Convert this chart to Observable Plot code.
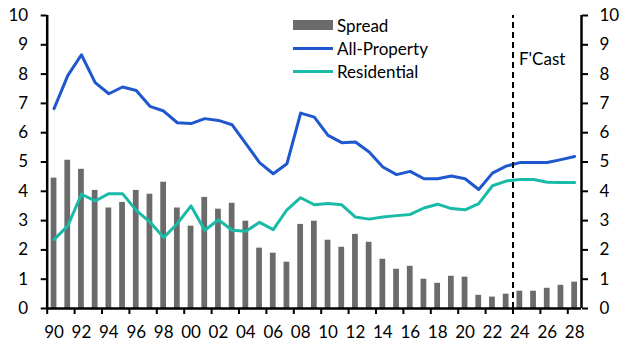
<!DOCTYPE html>
<html>
<head>
<meta charset="utf-8">
<script src="https://cdn.jsdelivr.net/npm/d3@7"></script>
<script src="https://cdn.jsdelivr.net/npm/@observablehq/plot@0.6"></script>
<style>
  html, body { margin: 0; padding: 0; background: #fff; }
  #wrap { position: relative; width: 630px; height: 355px; font-family: Lato, "Noto Sans", sans-serif; }
  .leg { position: absolute; left: 293px; height: 22px; display: flex; align-items: center; font-size: 17px; color: #000; white-space: nowrap; }
  .sw { width: 40px; margin-right: 4px; }
</style>
</head>
<body>
<div id="wrap"></div>
<script>
const years = d3.range(1990, 2029);
const spread = [4.45, 5.06, 4.75, 4.03, 3.43, 3.62, 4.03, 3.90, 4.31, 3.43,
                2.81, 3.79, 3.39, 3.59, 2.98, 2.06, 1.89, 1.58, 2.87, 2.98,
                2.33, 2.09, 2.53, 2.26, 1.68, 1.34, 1.44, 1.00, 0.86, 1.10,
                1.07, 0.45, 0.39, 0.49, 0.59, 0.59, 0.69, 0.79, 0.90];
const allProperty = [6.82, 7.95, 8.66, 7.71, 7.33, 7.56, 7.44, 6.90, 6.74, 6.34,
                     6.31, 6.48, 6.42, 6.27, 5.63, 4.98, 4.60, 4.94, 6.67, 6.53,
                     5.91, 5.66, 5.68, 5.34, 4.83, 4.57, 4.68, 4.43, 4.43, 4.52,
                     4.43, 4.06, 4.62, 4.86, 4.98, 4.98, 4.98, 5.08, 5.19];
const residential = [2.35, 2.82, 3.90, 3.67, 3.92, 3.92, 3.35, 2.95, 2.42, 2.90,
                     3.50, 2.67, 3.03, 2.67, 2.64, 2.94, 2.69, 3.37, 3.78, 3.54,
                     3.58, 3.54, 3.12, 3.05, 3.12, 3.17, 3.21, 3.43, 3.56, 3.41,
                     3.37, 3.58, 4.19, 4.35, 4.40, 4.40, 4.31, 4.30, 4.30];
const xTicks = d3.range(1990, 2029, 2);
const yTicks = d3.range(0, 11, 1);
const forecastStart = 2024;
const forecastLabel = "F'Cast";
const forecastLabelY = 8.5;
const seriesNames = ["Spread", "All-Property", "Residential"];
const colors = { bar: "#6b6b6b", all: "#1f57cf", res: "#19bba8" };

const data = years.map((y, i) => ({ year: y, spread: spread[i], all: allProperty[i], res: residential[i] }));

const chart = Plot.plot({
  width: 630,
  height: 355,
  marginLeft: 46.7,
  marginRight: 49,
  marginTop: 15,
  marginBottom: 47,
  style: { fontFamily: "Lato, 'Noto Sans', sans-serif", fontSize: "17px", color: "#000", background: "#fff" },
  x: { domain: [1990, 2029], axis: null },
  y: { domain: [0, 10], axis: null },
  marks: [
    Plot.rectY(data, { x1: d => d.year + 0.29, x2: d => d.year + 0.71, y1: 0, y2: "spread", fill: colors.bar }),
    Plot.line(data, { x: d => d.year + 0.5, y: "res", stroke: colors.res, strokeWidth: 3 }),
    Plot.line(data, { x: d => d.year + 0.5, y: "all", stroke: colors.all, strokeWidth: 3 }),
    Plot.ruleX([forecastStart], { y1: 0, y2: 10, stroke: "#000", strokeWidth: 2, strokeDasharray: "6,4" }),
    Plot.text([forecastLabel], { x: forecastStart, y: forecastLabelY, text: d => d, textAnchor: "start", dx: 6, fontSize: 17, fill: "#000" }),
    Plot.axisX({ ticks: xTicks, tickSize: 6, strokeWidth: 2, tickFormat: () => "" }),
    Plot.axisX({ ticks: xTicks.map(y => y + 0.5), tickSize: 0, tickPadding: 17, tickFormat: d => String(Math.round(d - 0.5) % 100).padStart(2, "0") }),
    Plot.axisY({ anchor: "left", ticks: yTicks, tickSize: 6, tickPadding: 13, strokeWidth: 2, tickFormat: d => String(d) }),
    Plot.axisY({ anchor: "right", ticks: yTicks, tickSize: 6, tickPadding: 12, strokeWidth: 2, tickFormat: d => String(d) }),
    Plot.ruleY([0], { stroke: "#000", strokeWidth: 2.5 }),
    Plot.ruleX([1990, 2029], { y1: 0, y2: 10, stroke: "#000", strokeWidth: 2.5 })
  ]
});

const wrap = document.getElementById("wrap");
wrap.appendChild(chart);

const legendItems = [
  { name: seriesNames[0], top: 14, swatch: `height:10px;background:${colors.bar}` },
  { name: seriesNames[1], top: 37, swatch: `height:3px;background:${colors.all}` },
  { name: seriesNames[2], top: 60, swatch: `height:3px;background:${colors.res}` }
];
for (const it of legendItems) {
  const row = document.createElement("div");
  row.className = "leg";
  row.style.top = it.top + "px";
  row.innerHTML = `<div class="sw" style="${it.swatch}"></div><span>${it.name}</span>`;
  wrap.appendChild(row);
}
</script>
</body>
</html>
